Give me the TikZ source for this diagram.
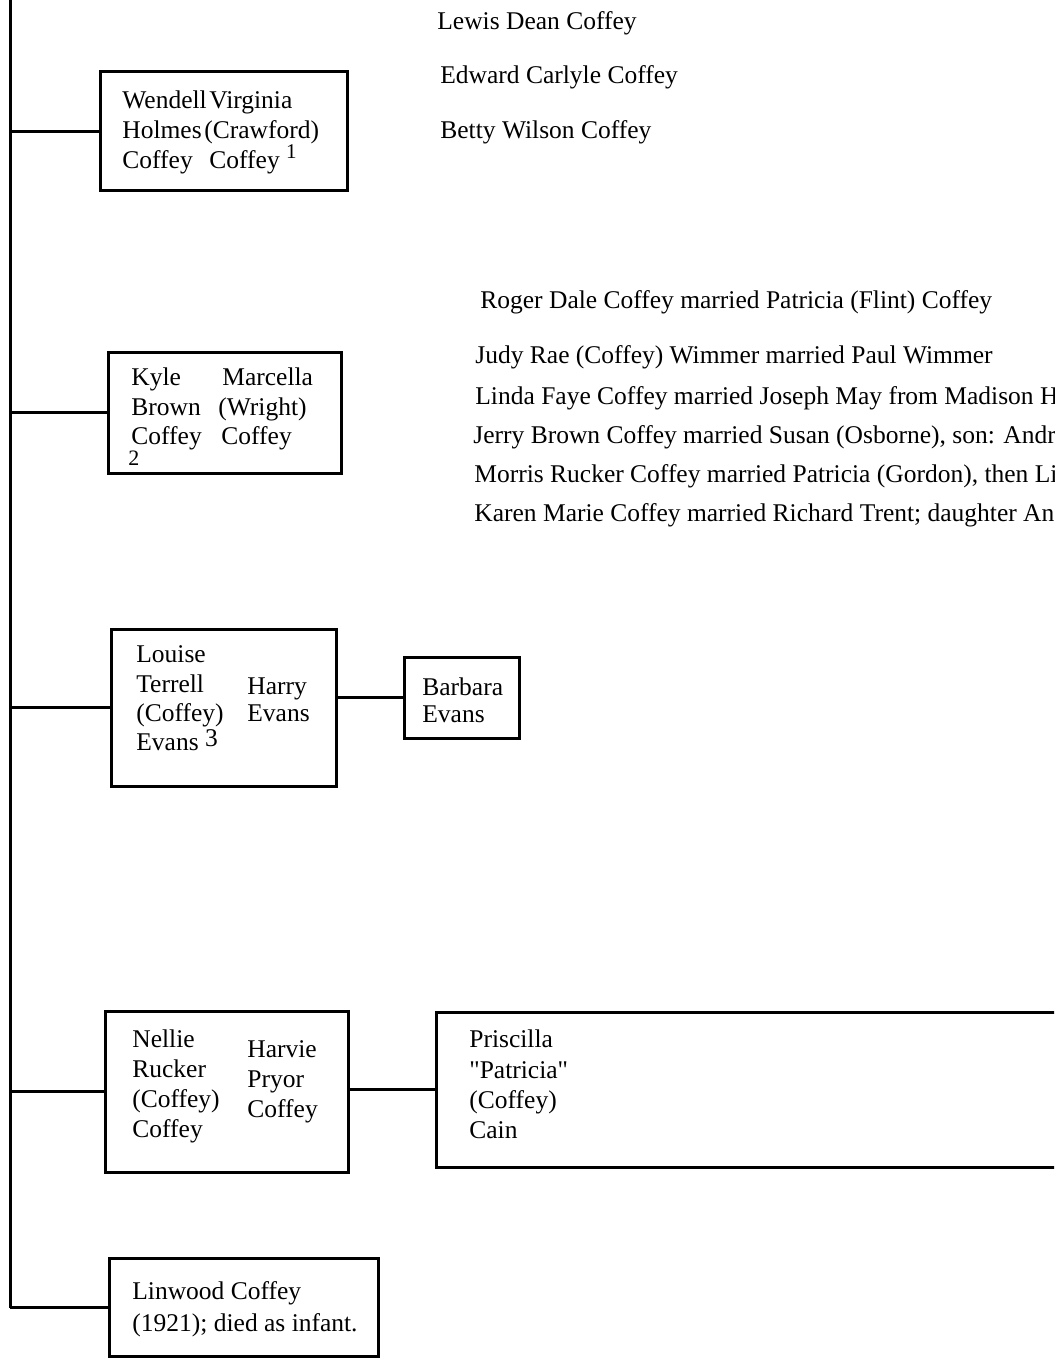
\documentclass[tikz,border=0pt]{standalone}
\usepackage{fontspec}
\setmainfont{Liberation Serif}
\usetikzlibrary{fit}
\begin{document}
\begin{tikzpicture}[x=0.5pt,y=-0.5pt,
  famtext/.style={anchor=base west, inner sep=0pt, font=\fontsize{12.75}{15}\selectfont},
  famline/.style={line width=1.5pt},
  famrect/.style={draw, line width=1.5pt, inner sep=0pt}]
\useasboundingbox (0,0) rectangle (1054,1358);
\fill[white] (0,0) rectangle (1054,1358);
\clip (0,0) rectangle (1054,1358);

% trunk
\coordinate (ttop) at (10,-2);
\coordinate (tbot) at (10,1308);
\draw[famline] (ttop) -- (tbot);

% boxes
\node[famrect, fit={(100,72) (347,191)}] (wendell) {};
\node[famrect, fit={(108,352) (341,473)}] (kyle) {};
\node[famrect, fit={(111,629) (336,786)}] (louise) {};
\node[famrect, fit={(404,657) (519,738)}] (barbara) {};
\node[famrect, fit={(105,1011) (348,1172)}] (nellie) {};
\node[famrect, fit={(436,1012) (1075,1167)}] (priscilla) {};
\node[famrect, fit={(109,1258) (378,1356)}] (linwood) {};

% connectors
\draw[famline] (wendell.west) -- (wendell.west -| ttop);
\draw[famline] (kyle.west) -- (kyle.west -| ttop);
\draw[famline] (louise.west) -- (louise.west -| ttop);
\draw[famline] (nellie.west) -- (nellie.west -| ttop);
\draw[famline] (linwood.west) -- (linwood.west -| ttop);
\draw[famline] (louise.east |- barbara.west) -- (barbara.west);
\draw[famline] (nellie.east |- priscilla.west) -- (priscilla.west);

% top children
\node[famtext] (lewis) at (437,30) {Lewis Dean Coffey};
\node[famtext] (edward) at (440,84) {Edward Carlyle Coffey};
\node[famtext] (betty) at (440,139) {Betty Wilson Coffey};

% Wendell box text
\node[famtext] (w1) at (122,109) {Wendell};
\node[famtext] (w2) at (122,139) {Holmes};
\node[famtext] (w3) at (122,169) {Coffey};
\node[famtext] (v1) at (209,109) {Virginia};
\node[famtext] (v2) at (204,139) {(Crawford)};
\node[famtext] (v3) at (209,169) {Coffey~\raisebox{5pt}{\fontsize{10.5}{10.5}\selectfont 1}};

% Kyle box text
\node[famtext] (k1) at (131,385) {Kyle};
\node[famtext] (k2) at (131,415) {Brown};
\node[famtext] (k3) at (131,444) {Coffey};
\node[famtext] (k4) at (128,465) {\fontsize{11}{11}\selectfont 2};
\node[famtext] (m1) at (222,385) {Marcella};
\node[famtext] (m2) at (218,415) {(Wright)};
\node[famtext] (m3) at (221,444) {Coffey};

% middle children
\node[famtext] (roger) at (480,308) {Roger Dale Coffey married Patricia (Flint) Coffey};
\node[famtext] (judy) at (475,364) {Judy Rae (Coffey) Wimmer married Paul Wimmer};
\node[famtext] (linda) at (475,404) {Linda Faye Coffey married Joseph May from Madison H};
\node[famtext] (jerry) at (473,443) {Jerry Brown Coffey married Susan (Osborne), son: Andr};
\node[famtext] (morris) at (474,482) {Morris Rucker Coffey married Patricia (Gordon), then Li};
\node[famtext] (karen) at (474,521) {Karen Marie Coffey married Richard Trent; daughter An};

% Louise box text
\node[famtext] (l1) at (136,662) {Louise};
\node[famtext] (l2) at (136,692) {Terrell};
\node[famtext] (l3) at (136,721) {(Coffey)};
\node[famtext] (l4) at (136,750) {Evans~\raisebox{2pt}{3}};
\node[famtext] (h1) at (247,694) {Harry};
\node[famtext] (h2) at (247,721) {Evans};
\node[famtext] (b1) at (422,695) {Barbara};
\node[famtext] (b2) at (422,722) {Evans};

% Nellie box text
\node[famtext] (n1) at (132,1047) {Nellie};
\node[famtext] (n2) at (132,1077) {Rucker};
\node[famtext] (n3) at (132,1107) {(Coffey)};
\node[famtext] (n4) at (132,1137) {Coffey};
\node[famtext] (hp1) at (247,1057) {Harvie};
\node[famtext] (hp2) at (247,1087) {Pryor};
\node[famtext] (hp3) at (247,1117) {Coffey};

% Priscilla box text
\node[famtext] (p1) at (469,1047) {Priscilla};
\node[famtext] (p2) at (469,1078) {\textquotedbl Patricia\textquotedbl};
\node[famtext] (p3) at (469,1108) {(Coffey)};
\node[famtext] (p4) at (469,1138) {Cain};

% Linwood box text
\node[famtext] (lw1) at (132,1299) {Linwood Coffey};
\node[famtext] (lw2) at (132,1331) {(1921); died as infant.};
\end{tikzpicture}
\end{document}
